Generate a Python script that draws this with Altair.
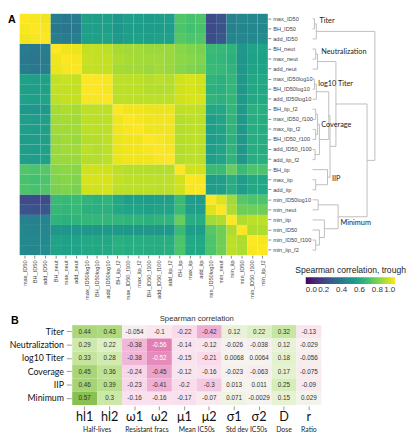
import altair as alt
import pandas as pd

# ---------------- Panel A data ----------------
labels_A = ["max_ID50", "BH_ID50", "add_ID50", "BH_neut", "max_neut", "add_neut",
            "max_ID50log10", "BH_ID50log10", "add_ID50log10", "BH_iip_f2", "max_ID50_f100",
            "max_iip_f2", "BH_ID50_f100", "add_ID50_f100", "add_iip_f2", "BH_iip", "max_iip",
            "add_iip", "min_ID50log10", "min_neut", "min_iip", "min_ID50", "min_ID50_f100",
            "min_iip_f2"]

# lower triangle of the Spearman correlation matrix (row i, columns 0..i)
corr_lower = [
    [1.00],
    [0.99, 1.00],
    [0.98, 0.99, 1.00],
    [0.41, 0.40, 0.42, 1.00],
    [0.40, 0.39, 0.41, 0.98, 1.00],
    [0.41, 0.40, 0.42, 0.97, 0.99, 1.00],
    [0.57, 0.56, 0.57, 0.91, 0.92, 0.91, 1.00],
    [0.56, 0.56, 0.57, 0.91, 0.91, 0.91, 1.00, 1.00],
    [0.57, 0.56, 0.58, 0.90, 0.91, 0.91, 0.99, 0.99, 1.00],
    [0.53, 0.52, 0.54, 0.87, 0.88, 0.87, 0.90, 0.90, 0.90, 1.00],
    [0.56, 0.55, 0.56, 0.86, 0.87, 0.86, 0.90, 0.90, 0.90, 0.98, 1.00],
    [0.56, 0.55, 0.57, 0.86, 0.86, 0.86, 0.90, 0.90, 0.90, 0.98, 0.99, 1.00],
    [0.55, 0.55, 0.56, 0.85, 0.86, 0.85, 0.89, 0.89, 0.90, 0.97, 0.98, 0.98, 1.00],
    [0.56, 0.55, 0.57, 0.85, 0.86, 0.86, 0.90, 0.89, 0.90, 0.97, 0.98, 0.98, 0.99, 1.00],
    [0.56, 0.55, 0.57, 0.85, 0.85, 0.85, 0.89, 0.89, 0.90, 0.97, 0.98, 0.98, 0.98, 0.99, 1.00],
    [0.73, 0.72, 0.74, 0.82, 0.83, 0.82, 0.93, 0.93, 0.93, 0.90, 0.89, 0.89, 0.89, 0.89, 0.89, 1.00],
    [0.71, 0.70, 0.72, 0.81, 0.82, 0.81, 0.94, 0.94, 0.94, 0.91, 0.90, 0.90, 0.90, 0.90, 0.90, 0.93, 1.00],
    [0.72, 0.71, 0.73, 0.80, 0.81, 0.80, 0.93, 0.93, 0.94, 0.90, 0.90, 0.90, 0.90, 0.90, 0.90, 0.93, 0.99, 1.00],
    [0.22, 0.22, 0.23, 0.68, 0.67, 0.68, 0.65, 0.64, 0.65, 0.60, 0.56, 0.56, 0.55, 0.56, 0.56, 0.68, 0.55, 0.55, 1.00],
    [0.26, 0.25, 0.27, 0.67, 0.66, 0.67, 0.64, 0.63, 0.64, 0.60, 0.58, 0.58, 0.57, 0.58, 0.58, 0.68, 0.56, 0.56, 0.95, 1.00],
    [0.44, 0.43, 0.45, 0.65, 0.64, 0.65, 0.66, 0.66, 0.66, 0.66, 0.65, 0.65, 0.64, 0.65, 0.65, 0.77, 0.62, 0.62, 0.86, 0.88, 1.00],
    [0.46, 0.45, 0.46, 0.53, 0.52, 0.53, 0.53, 0.53, 0.54, 0.54, 0.53, 0.53, 0.53, 0.53, 0.53, 0.68, 0.55, 0.55, 0.74, 0.78, 0.88, 1.00],
    [0.47, 0.46, 0.47, 0.58, 0.57, 0.58, 0.60, 0.60, 0.60, 0.63, 0.62, 0.62, 0.62, 0.62, 0.62, 0.72, 0.60, 0.60, 0.72, 0.78, 0.90, 0.88, 1.00],
    [0.47, 0.46, 0.48, 0.58, 0.57, 0.58, 0.60, 0.60, 0.61, 0.63, 0.62, 0.62, 0.62, 0.62, 0.63, 0.72, 0.60, 0.60, 0.72, 0.78, 0.90, 0.88, 0.99, 1.00],
]

# dendrogram merges (child a, child b, linkage height)
merge_a = ["max_ID50", "m0", "BH_neut", "m2", "max_ID50log10", "m4", "BH_iip_f2", "max_iip_f2",
           "add_ID50_f100", "m6", "m9", "max_iip", "BH_iip", "m5", "m13", "m3",
           "min_ID50log10", "min_ID50_f100", "min_ID50", "min_iip", "m16", "m15", "m1"]
merge_b = ["BH_ID50", "add_ID50", "max_neut", "add_neut", "BH_ID50log10", "add_ID50log10",
           "max_ID50_f100", "BH_ID50_f100", "add_iip_f2", "m7", "m8", "add_iip", "m11", "m10",
           "m12", "m14", "min_neut", "min_iip_f2", "m17", "m18", "m19", "m20", "m21"]
merge_h = [0.03, 0.06, 0.05, 0.08, 0.03, 0.06, 0.05, 0.05, 0.04, 0.08, 0.11, 0.05, 0.24,
           0.26, 0.28, 0.375, 0.09, 0.05, 0.11, 0.19, 0.41, 0.875, 1.0]

cluster_names = ["Titer", "Neutralization", "log10 Titer", "Coverage", "IIP", "Minimum"]
cluster_row = [0.2, 3.3, 6.45, 10.6, 15.9, 20.3]
cluster_height = [0.11, 0.14, 0.09, 0.14, 0.31, 0.45]

# ---------------- Panel B data ----------------
rows_B = ["Titer", "Neutralization", "log10 Titer", "Coverage", "IIP", "Minimum"]
cols_B = ["hl1", "hl2", "ω1", "ω2", "μ1", "μ2", "σ1", "σ2", "D", "r"]
vals_B = [
    [0.44, 0.43, -0.054, -0.1, -0.22, -0.42, 0.12, 0.22, 0.32, -0.13],
    [0.29, 0.22, -0.38, -0.56, -0.14, -0.12, -0.026, -0.038, 0.12, -0.029],
    [0.33, 0.28, -0.38, -0.52, -0.15, -0.21, 0.0068, 0.0064, 0.18, -0.056],
    [0.45, 0.36, -0.24, -0.45, -0.12, -0.16, -0.023, -0.063, 0.17, -0.075],
    [0.46, 0.39, -0.23, -0.41, -0.2, -0.3, 0.013, 0.011, 0.25, -0.09],
    [0.57, 0.3, -0.16, -0.16, -0.17, -0.07, 0.071, -0.0029, 0.15, 0.029],
]
group2_names = ["Half-lives", "Resistant fracs", "Mean IC50s", "Std dev IC50s"]
group2_first = ["hl1", "ω1", "μ1", "σ1"]
group1_names = ["Dose", "Ratio"]
group1_col = ["D", "r"]

# ---------------- tables ----------------
recA = []
for i in range(len(labels_A)):
    for j in range(len(labels_A)):
        v = corr_lower[i][j] if j <= i else corr_lower[j][i]
        recA.append({"r": labels_A[i], "c": labels_A[j], "va": v})
dfA = pd.DataFrame(recA)

pos = {n: float(i) for i, n in enumerate(labels_A)}
hgt = {n: 0.0 for n in labels_A}
segs = []
for k, (a, b, h) in enumerate(zip(merge_a, merge_b, merge_h)):
    ya, yb = pos[a], pos[b]
    segs.append({"x": hgt[a], "x2": h, "y": ya, "y2": ya})
    segs.append({"x": hgt[b], "x2": h, "y": yb, "y2": yb})
    segs.append({"x": h, "x2": h, "y": ya, "y2": yb})
    pos[f"m{k}"] = (ya + yb) / 2
    hgt[f"m{k}"] = h
dfD = pd.DataFrame(segs)
dfC = pd.DataFrame({"name": cluster_names, "row": cluster_row, "d": cluster_height})

recB = []
for i, rn in enumerate(rows_B):
    for j, cn in enumerate(cols_B):
        recB.append({"r": rn, "c": cn, "vb": vals_B[i][j], "lab": str(vals_B[i][j])})
dfB = pd.DataFrame(recB)

# ---------------- Panel A ----------------
W_A, H_A = 255, 248
heatA = alt.Chart(dfA).mark_rect().encode(
    x=alt.X("c:N", sort=labels_A, title=None,
            scale=alt.Scale(paddingInner=0, paddingOuter=0),
            axis=alt.Axis(labelAngle=270, labelAlign="right", labelBaseline="middle",
                          labelFontSize=5.8, labelFont="Liberation Sans", labelColor="#444",
                          tickSize=3, tickColor="#888", domain=False, labelPadding=2)),
    y=alt.Y("r:N", sort=labels_A, title=None,
            scale=alt.Scale(paddingInner=0, paddingOuter=0),
            axis=alt.Axis(orient="right", labelFontSize=5.8, labelFont="Liberation Sans",
                          labelColor="#444", tickSize=3, tickColor="#888", domain=False,
                          labelPadding=2)),
    color=alt.Color("va:Q", scale=alt.Scale(scheme="viridis", domain=[0, 1]),
                    legend=alt.Legend(orient="none", legendX=283, legendY=259,
                                      direction="horizontal", title="Spearman correlation, trough",
                                      titleFontSize=8.8, titleFontWeight="normal",
                                      titleFont="Liberation Sans", titleColor="#222",
                                      titleAnchor="middle", titlePadding=3,
                                      gradientLength=92, gradientThickness=7,
                                      gradientStrokeWidth=0,
                                      values=[0, 0.2, 0.4, 0.6, 0.8, 1.0], format=".1f",
                                      labelFontSize=8.2, labelFont="Liberation Sans",
                                      labelColor="#333", labelOverlap=False, labelOffset=2)),
)

dx_scale = alt.Scale(domain=[0, 1], range=[301, 365], zero=False, nice=False)
dy_scale = alt.Scale(domain=[-0.5, 23.5], range=[0, H_A], zero=False, nice=False)

dendro = alt.Chart(dfD).mark_rule(color="#bdbdbd", strokeWidth=1).encode(
    x=alt.X("x:Q", scale=dx_scale, axis=None),
    x2="x2:Q",
    y=alt.Y("y:Q", scale=dy_scale, axis=None),
    y2="y2:Q",
)

clusters = alt.Chart(dfC).mark_text(align="left", baseline="middle", fontSize=7.5,
                                    font="Lato", color="#222").encode(
    x=alt.X("d:Q", scale=dx_scale, axis=None),
    y=alt.Y("row:Q", scale=dy_scale, axis=None),
    text="name:N",
)

letterA = alt.Chart(pd.DataFrame({"t": ["A"]})).mark_text(
    align="left", baseline="top", fontSize=11, fontWeight="bold",
    font="Liberation Sans", color="#000").encode(
    x=alt.value(-12), y=alt.value(0), text="t:N")

panelA = alt.layer(heatA, dendro, clusters, letterA).resolve_scale(
    x="independent", y="independent").properties(width=W_A, height=H_A)

# ---------------- Panel B ----------------
W_B, H_B = 310, 82
xB_axis = alt.Axis(labelAngle=0, labelFontSize=13, labelFont="Lato", labelColor="#111",
                   tickSize=4, tickColor="#999", domain=False, offset=1, labelPadding=1)
yB_axis = alt.Axis(offset=-53, tickSize=5, tickColor="#999", labelPadding=3, domain=False,
                   labelFontSize=9, labelFont="Lato", labelColor="#111")
xB_scale = alt.Scale(range=[54, 310], paddingInner=0, paddingOuter=0)
yB_scale = alt.Scale(range=[0, H_B], paddingInner=0, paddingOuter=0)


def xB(bp=0.5):
    return alt.X("c:N", sort=cols_B, title=None, scale=xB_scale, axis=xB_axis, bandPosition=bp)


def yB():
    return alt.Y("r:N", sort=rows_B, title=None, scale=yB_scale, axis=yB_axis)


rectB = alt.Chart(dfB).mark_rect().encode(
    x=xB(), y=yB(),
    color=alt.Color("vb:Q", scale=alt.Scale(scheme="pinkyellowgreen", domain=[-1, 1]),
                    legend=None),
)
textB = alt.Chart(dfB).mark_text(fontSize=6.5, font="Liberation Sans").encode(
    x=xB(), y=yB(), text="lab:N",
    color=alt.condition("datum.vb < -0.5", alt.value("#ffffff"), alt.value("#333333")),
)
grp2 = alt.Chart(pd.DataFrame({"c": group2_first, "g": group2_names})).mark_text(
    fontSize=7, font="Lato", color="#222", baseline="middle").encode(
    x=xB(1), y=alt.value(108), text="g:N")
grp1 = alt.Chart(pd.DataFrame({"c": group1_col, "g": group1_names})).mark_text(
    fontSize=7, font="Lato", color="#222", baseline="middle").encode(
    x=xB(0.5), y=alt.value(108), text="g:N")
titleB = alt.Chart(pd.DataFrame({"t": ["Spearman correlation"]})).mark_text(
    fontSize=8, font="Liberation Sans", color="#333", baseline="middle").encode(
    x=alt.value(182), y=alt.value(-6), text="t:N")
letterB = alt.Chart(pd.DataFrame({"t": ["B"]})).mark_text(
    align="left", baseline="middle", fontSize=11, fontWeight="bold",
    font="Liberation Sans", color="#000").encode(
    x=alt.value(-9), y=alt.value(-4), text="t:N")

panelB = alt.layer(rectB, textB, grp2, grp1, titleB, letterB).properties(width=W_B, height=H_B)

chart = alt.vconcat(panelA, panelB, spacing=72, bounds="flush").resolve_scale(
    color="independent").properties(
    padding={"left": 0, "top": 0, "right": 0, "bottom": 0}).configure_view(stroke=None)

chart.save("out.html", embed_options={"renderer": "svg", "actions": False})
